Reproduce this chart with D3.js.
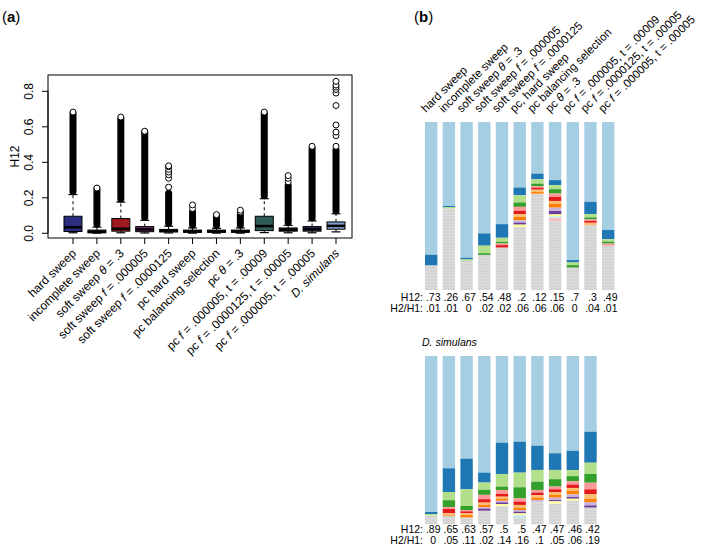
<!DOCTYPE html>
<html>
<head>
<meta charset="utf-8">
<script src="https://cdn.jsdelivr.net/npm/d3@7"></script>
<style>
body { margin: 0; background: #fff; }
svg text { font-family: "Liberation Sans", Arial, Helvetica, sans-serif; fill: #000; }
</style>
</head>
<body>
<svg id="chart" width="715" height="551"></svg>
<script>
'use strict';

// ---- panel (a): boxplots of H12 ----
var boxLabels = ['hard sweep', 'incomplete sweep', 'soft sweep θ = .3', 'soft sweep f = .000005',
    'soft sweep f = .0000125', 'pc hard sweep', 'pc balancing selection', 'pc θ = .3',
    'pc f = .000005, t = .00009', 'pc f = .0000125, t = .00005', 'pc f = .000005, t = .00005', 'D. simulans'];
var q1 = [.010, .003, .012, .009, .008, .006, .006, .006, .015, .012, .012, .023];
var median = [.034, .008, .026, .022, .013, .010, .010, .010, .041, .020, .024, .042];
var q3 = [.096, .018, .083, .038, .022, .018, .018, .018, .096, .030, .038, .064];
var whiskLo = [.003, .001, .003, .002, .002, .001, .001, .001, .004, .003, .003, .008];
var whiskHi = [.218, .035, .176, .073, .040, .030, .028, .030, .195, .045, .070, .110];
var denseTop = [.675, .250, .645, .570, .225, .120, .100, .110, .675, .270, .480, .470];
var outliers = [[.683], [.255], [.655], [.575], [.26, .31, .33, .345, .36, .375, .38], [.14, .16],
    [.105], [.12, .13], [.683], [.29, .31, .325], [.49],
    [.49, .55, .57, .61, .72, .79, .81, .823, .835, .856]];
var boxColors = ['#2c2f80', '#2a2a2a', '#9e1b22', '#7b2b83', '#2a2a2a', '#2a2a2a', '#2a2a2a', '#2a2a2a',
    '#2f5a55', '#2a2a2a', '#362f66', '#7d9dca'];
var yTicks = [0, 0.2, 0.4, 0.6, 0.8];

// ---- panel (b): haplotype frequency spectra ----
var simLabels = ['hard sweep', 'incomplete sweep', 'soft sweep θ = .3', 'soft sweep f = .000005',
    'soft sweep f = .0000125', 'pc, hard sweep', 'pc balancing selection', 'pc θ = .3',
    'pc f = .000005, t = .00009', 'pc f = .0000125, t = .00005', 'pc f = .000005, t = .00005'];
var simFreqs = [
    [.790, .063],
    [.500, .006, .008],
    [.808, .010, .008],
    [.663, .073, .045, .010],
    [.608, .081, .024, .010, .010, .014],
    [.390, .046, .043, .026, .024, .020, .016, .020, .014, .012, .014],
    [.307, .034, .026, .016, .008, .012, .014, .010],
    [.346, .030, .024, .026, .020, .024, .016, .024, .020, .020, .012, .012, .014],
    [.822, .014, .016, .014],
    [.475, .073, .020, .012, .008, .012, .014],
    [.643, .055, .014, .012, .012]
];
var simH12 = ['.73', '.26', '.67', '.54', '.48', '.2', '.12', '.15', '.7', '.3', '.49'];
var simH2H1 = ['.01', '.01', '0', '.02', '.02', '.06', '.06', '.06', '0', '.04', '.01'];

var dsimFreqs = [
    [.927, .012, .008],
    [.667, .141, .049, .040, .012, .026, .012, .004],
    [.610, .182, .099, .024, .008, .012, .010, .014],
    [.693, .059, .043, .030, .026, .020, .014, .014, .008, .012],
    [.515, .186, .075, .020, .024, .016, .012, .012, .010, .010, .012],
    [.509, .184, .087, .065, .020, .020, .016, .014, .010, .010, .012, .018],
    [.533, .144, .070, .049, .016, .015, .016, .012, .010],
    [.578, .099, .055, .044, .016, .018, .016, .016, .014, .008, .012],
    [.563, .115, .036, .030, .020, .020, .016, .022, .016, .010, .010],
    [.450, .184, .067, .052, .039, .028, .028, .020, .020, .012]
];
var dsimH12 = ['.89', '.65', '.63', '.57', '.5', '.5', '.47', '.47', '.46', '.42'];
var dsimH2H1 = ['0', '.05', '.11', '.02', '.14', '.16', '.1', '.05', '.06', '.19'];

var hapColors = ['#a6cee3', '#1f78b4', '#b2df8a', '#33a02c', '#fb9a99', '#e31a1c', '#fdbf6f',
    '#ff7f00', '#cab2d6', '#6a3d9a', '#ffff99', '#c6e3ef', '#f8b3b0'];

var svg = d3.select('#chart');

// italic parts: theta, f, D. simulans
function richText(sel, str) {
    var parts = str.split(/(θ|\bf\b|D\. simulans)/);
    parts.forEach(function (p) {
        if (!p) return;
        var t = sel.append('tspan').text(p);
        if (p === 'θ' || p === 'f' || p === 'D. simulans') t.attr('font-style', 'italic');
    });
}

// ================= panel (a) =================
var frame = {left: 48, right: 352, top: 75, bottom: 238};
var y = d3.scaleLinear().domain([0, 0.8]).range([233.3, 91.3]);
var x = d3.scalePoint().domain(d3.range(boxLabels.length)).range([73, 336]);
var boxW = 18;

svg.append('text').attr('x', 2).attr('y', 22).attr('font-size', 15)
    .html('(<tspan font-weight="bold">a</tspan>)');

svg.append('rect')
    .attr('x', frame.left).attr('y', frame.top)
    .attr('width', frame.right - frame.left).attr('height', frame.bottom - frame.top)
    .attr('fill', 'none').attr('stroke', '#000').attr('stroke-width', 1);

// y axis
var ya = svg.append('g');
ya.append('line').attr('x1', frame.left).attr('x2', frame.left)
    .attr('y1', y(0)).attr('y2', y(0.8)).attr('stroke', '#000');
ya.selectAll('line.tick').data(yTicks).enter().append('line')
    .attr('class', 'tick')
    .attr('x1', frame.left - 6).attr('x2', frame.left)
    .attr('y1', function (d) { return y(d); }).attr('y2', function (d) { return y(d); })
    .attr('stroke', '#000');
ya.selectAll('text').data(yTicks).enter().append('text')
    .attr('transform', function (d) { return 'translate(33,' + y(d) + ') rotate(-90)'; })
    .attr('text-anchor', 'middle').attr('font-size', 12)
    .text(function (d) { return d3.format('.1f')(d); });
svg.append('text')
    .attr('transform', 'translate(19,' + ((frame.top + frame.bottom) / 2) + ') rotate(-90)')
    .attr('text-anchor', 'middle').attr('font-size', 12).text('H12');

// x axis
var xa = svg.append('g');
xa.selectAll('line').data(boxLabels).enter().append('line')
    .attr('x1', function (d, i) { return x(i); }).attr('x2', function (d, i) { return x(i); })
    .attr('y1', frame.bottom).attr('y2', frame.bottom + 6).attr('stroke', '#000');
xa.selectAll('text').data(boxLabels).enter().append('text')
    .attr('transform', function (d, i) { return 'translate(' + (x(i) + 1) + ',251) rotate(-45)'; })
    .attr('text-anchor', 'end').attr('dy', '0.35em').attr('font-size', 12)
    .each(function (d) { richText(d3.select(this), d); });

// boxes
var boxes = svg.append('g').selectAll('g').data(boxLabels).enter().append('g')
    .attr('transform', function (d, i) { return 'translate(' + x(i) + ',0)'; });

boxes.append('line') // upper whisker
    .attr('y1', function (d, i) { return y(q3[i]); }).attr('y2', function (d, i) { return y(whiskHi[i]); })
    .attr('stroke', '#000').attr('stroke-dasharray', '3,3');
boxes.append('line') // lower whisker
    .attr('y1', function (d, i) { return y(q1[i]); }).attr('y2', function (d, i) { return y(whiskLo[i]); })
    .attr('stroke', '#000').attr('stroke-dasharray', '3,3');
boxes.append('line')
    .attr('x1', -boxW / 4).attr('x2', boxW / 4)
    .attr('y1', function (d, i) { return y(whiskHi[i]); }).attr('y2', function (d, i) { return y(whiskHi[i]); })
    .attr('stroke', '#000').attr('stroke-width', 1.2);
boxes.append('line')
    .attr('x1', -boxW / 4).attr('x2', boxW / 4)
    .attr('y1', function (d, i) { return y(whiskLo[i]); }).attr('y2', function (d, i) { return y(whiskLo[i]); })
    .attr('stroke', '#000').attr('stroke-width', 1.2);
boxes.append('rect')
    .attr('x', -boxW / 2).attr('width', boxW)
    .attr('y', function (d, i) { return y(q3[i]); })
    .attr('height', function (d, i) { return Math.max(1, y(q1[i]) - y(q3[i])); })
    .attr('fill', function (d, i) { return boxColors[i]; })
    .attr('stroke', '#000').attr('stroke-width', 1);
boxes.append('line')
    .attr('x1', -boxW / 2).attr('x2', boxW / 2)
    .attr('y1', function (d, i) { return y(median[i]); }).attr('y2', function (d, i) { return y(median[i]); })
    .attr('stroke', '#000').attr('stroke-width', 2.5);
// dense run of outliers drawn as a solid column
boxes.append('line')
    .attr('y1', function (d, i) { return y(whiskHi[i]) - 3; })
    .attr('y2', function (d, i) { return y(denseTop[i]); })
    .attr('stroke', '#000').attr('stroke-width', 7).attr('stroke-linecap', 'round');
boxes.each(function (d, i) {
    d3.select(this).selectAll('circle').data(outliers[i]).enter().append('circle')
        .attr('cy', function (v) { return y(v); }).attr('r', 3)
        .attr('fill', '#fff').attr('stroke', '#000').attr('stroke-width', 1);
});

// ================= panel (b) =================
svg.append('text').attr('x', 414).attr('y', 22).attr('font-size', 15)
    .html('(<tspan font-weight="bold">b</tspan>)');

var defs = svg.append('defs');
var pat = defs.append('pattern').attr('id', 'grayStripes').attr('patternUnits', 'userSpaceOnUse')
    .attr('width', 6).attr('height', 3);
pat.append('rect').attr('width', 6).attr('height', 3).attr('fill', '#d4d4d4');
pat.append('rect').attr('y', 2).attr('width', 6).attr('height', 1).attr('fill', '#dcdcdc');

var step = 17.7;

function drawStacks(freqs, top, bottom, h12, h2h1, rowY) {
    var n = freqs.length;
    var bx = d3.scaleBand().domain(d3.range(n)).range([425, 425 + step * (n - 0.3)])
        .paddingInner(0.3).paddingOuter(0);
    var by = d3.scaleLinear().domain([0, 1]).range([top, bottom]);
    var g = svg.append('g');
    freqs.forEach(function (f, i) {
        var cum = 0;
        var segs = f.map(function (p, k) {
            var s = {y0: cum, y1: cum + p, color: hapColors[k]};
            cum += p;
            return s;
        });
        var bar = g.append('g');
        bar.append('rect')
            .attr('x', bx(i)).attr('width', bx.bandwidth())
            .attr('y', by(cum)).attr('height', by(1) - by(cum))
            .attr('fill', 'url(#grayStripes)');
        bar.selectAll('rect.hap').data(segs).enter().append('rect')
            .attr('class', 'hap')
            .attr('x', bx(i)).attr('width', bx.bandwidth())
            .attr('y', function (s) { return by(s.y0); })
            .attr('height', function (s) { return by(s.y1) - by(s.y0); })
            .attr('fill', function (s) { return s.color; });
    });
    var rows = [['H12:', h12, rowY[0]], ['H2/H1:', h2h1, rowY[1]]];
    rows.forEach(function (r) {
        g.append('text').attr('x', 423).attr('y', r[2]).attr('text-anchor', 'end')
            .attr('font-size', 10.5).text(r[0]);
        g.selectAll(null).data(r[1]).enter().append('text')
            .attr('x', function (d, i) { return bx(i) + bx.bandwidth() / 2 + 2; })
            .attr('y', r[2]).attr('text-anchor', 'middle').attr('font-size', 10.5)
            .text(function (d) { return d; });
    });
    return bx;
}

var bxTop = drawStacks(simFreqs, 122, 290, simH12, simH2H1, [301, 311.5]);
drawStacks(dsimFreqs, 356, 524.3, dsimH12, dsimH2H1, [533, 543.5]);

svg.append('g').selectAll('text').data(simLabels).enter().append('text')
    .attr('transform', function (d, i) { return 'translate(' + (bxTop(i) + 1) + ',113) rotate(-45)'; })
    .attr('font-size', 11.5)
    .each(function (d) { richText(d3.select(this), d); });

svg.append('text').attr('x', 422).attr('y', 346).attr('font-size', 10.5)
    .attr('font-style', 'italic').text('D. simulans');
</script>
</body>
</html>
